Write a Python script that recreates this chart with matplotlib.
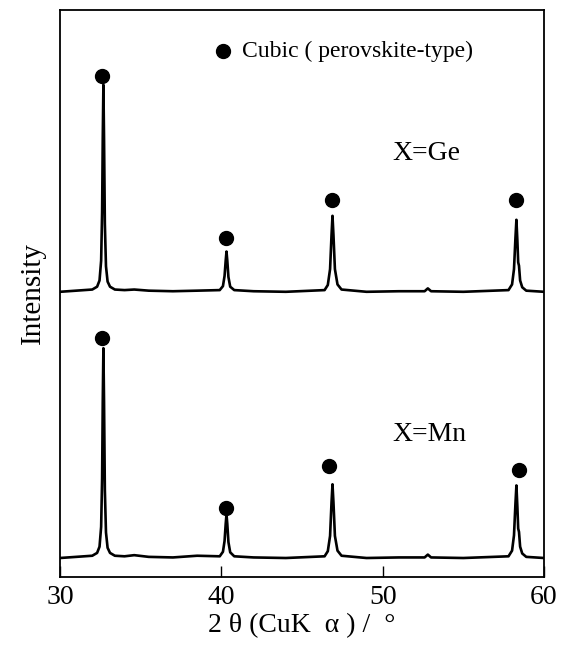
import matplotlib.pyplot as plt

# XRD patterns (2theta in degrees, intensity above baseline, arb. units)
ge_x = [30.0, 31.0, 32.0, 32.3, 32.45, 32.55, 32.61, 32.65, 32.69, 32.73, 32.78, 32.85, 32.95, 33.1, 33.4, 34.0,
        34.6, 35.5, 37.0, 38.5, 39.9, 40.1, 40.2, 40.27, 40.32, 40.37, 40.44, 40.55, 40.8, 42.0,
        44.0, 46.4, 46.6, 46.74, 46.83, 46.89, 46.95, 47.04, 47.2, 47.45, 49.0, 51.0, 52.6, 52.8,
        53.0, 55.0, 57.8, 58.02, 58.14, 58.23, 58.29, 58.35, 58.4, 58.45, 58.52, 58.65, 58.9, 60.0]
ge_y = [0.0, 0.2, 0.4, 0.9, 2.0, 5.5, 14.0, 27.0, 36.5, 27.0, 12.0, 4.5, 1.8, 0.9, 0.4, 0.3,
        0.4, 0.2, 0.1, 0.2, 0.3, 1.0, 2.8, 5.5, 7.1, 5.5, 2.6, 0.9, 0.3, 0.1,
        0.0, 0.3, 1.2, 4.0, 10.0, 13.4, 10.0, 4.0, 1.3, 0.4, 0.0, 0.1, 0.1, 0.6,
        0.1, 0.0, 0.3, 1.3, 4.0, 9.5, 12.7, 9.0, 5.2, 4.6, 2.0, 0.8, 0.2, 0.0]

mn_x = [30.0, 31.0, 32.0, 32.3, 32.45, 32.55, 32.61, 32.65, 32.69, 32.73, 32.78, 32.85, 32.95, 33.1, 33.4, 34.0,
        34.6, 35.5, 37.0, 38.5, 39.9, 40.1, 40.2, 40.27, 40.32, 40.37, 40.44, 40.55, 40.8, 42.0,
        44.0, 46.4, 46.6, 46.74, 46.83, 46.89, 46.95, 47.04, 47.2, 47.45, 49.0, 51.0, 52.6, 52.8,
        53.0, 55.0, 57.8, 58.02, 58.14, 58.23, 58.29, 58.35, 58.4, 58.45, 58.52, 58.65, 58.9, 60.0]
mn_y = [0.0, 0.2, 0.4, 0.9, 2.0, 5.5, 14.0, 27.5, 37.0, 27.5, 12.0, 4.5, 1.8, 0.9, 0.4, 0.3,
        0.5, 0.2, 0.1, 0.4, 0.3, 1.1, 3.0, 6.0, 7.7, 6.0, 2.8, 1.0, 0.3, 0.1,
        0.0, 0.3, 1.2, 3.9, 9.8, 13.0, 9.8, 3.9, 1.3, 0.4, 0.0, 0.1, 0.1, 0.6,
        0.1, 0.0, 0.3, 1.3, 4.0, 9.6, 12.8, 9.0, 5.2, 4.6, 2.0, 0.8, 0.2, 0.0]

ge_base = 50.3
mn_base = 3.35

# peak markers (cubic perovskite)
ge_dot_x = [32.58, 40.28, 46.89, 58.27]
ge_dot_y = [88.4, 59.8, 66.5, 66.5]
mn_dot_x = [32.58, 40.28, 46.67, 58.45]
mn_dot_y = [42.1, 12.2, 19.5, 18.9]

xticks = [30, 40, 50, 60]

plt.rcParams['font.family'] = ['Liberation Serif', 'DejaVu Serif']

fig = plt.figure(figsize=(5.68, 6.46), dpi=100)
ax = fig.add_axes([60 / 568, 69 / 646, 484 / 568, 567 / 646])

ax.plot(ge_x, [v + ge_base for v in ge_y], color='black', lw=1.9)
ax.plot(mn_x, [v + mn_base for v in mn_y], color='black', lw=1.9)
ax.plot(ge_dot_x, ge_dot_y, 'o', color='black', ms=10, ls='none')
ax.plot(mn_dot_x, mn_dot_y, 'o', color='black', ms=10, ls='none')

# legend-like note
ax.plot([40.1], [92.7], 'o', color='black', ms=10)
ax.text(41.3, 92.7, 'Cubic ( perovskite-type)', fontsize=17, va='center', ha='left')
ax.text(50.6, 74.7, 'X=Ge', fontsize=20, va='center', ha='left')
ax.text(50.6, 25.1, 'X=Mn', fontsize=20, va='center', ha='left')

ax.set_xlim(30, 60)
ax.set_ylim(0, 100)
ax.set_xticks(xticks)
ax.set_yticks([])
ax.tick_params(axis='x', direction='in', length=8, width=1, labelsize=20, pad=6)
for s in ax.spines.values():
    s.set_linewidth(1.3)

ax.set_xlabel('2 θ (CuK  α ) /  °', fontsize=20, labelpad=2)
ax.set_ylabel('Intensity', fontsize=21, labelpad=10)

fig.savefig('out.png', dpi=100)
